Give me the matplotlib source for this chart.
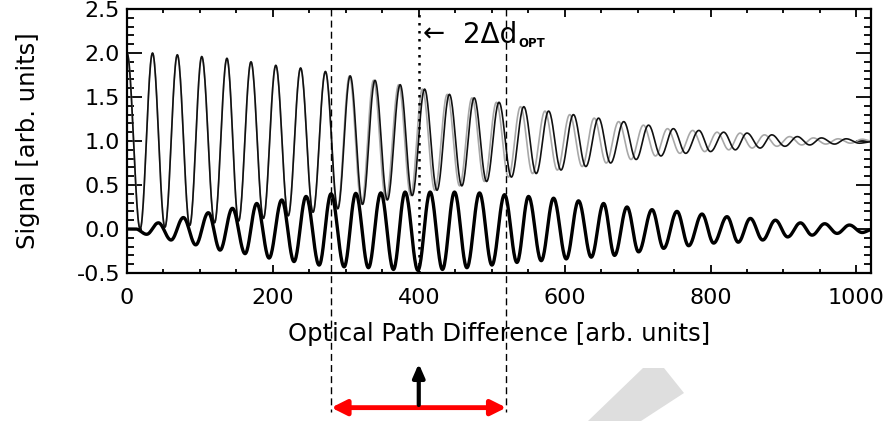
import numpy as np
import matplotlib.pyplot as plt
from matplotlib.patches import Polygon
from matplotlib.ticker import MultipleLocator

plt.rcParams['font.family'] = ['DejaVu Sans']

# --- upper signal (black, thin): extrema ---
black_peak_x = [0, 35, 69, 102.5, 137, 170, 204, 238, 272, 306, 340, 374.5, 408, 442, 476,
                510, 544, 578, 612, 646.5, 681, 715, 749, 784, 818, 850, 884, 919, 952, 986]
black_peak_y = [2.0, 2.0, 1.98, 1.96, 1.94, 1.90, 1.86, 1.83, 1.79, 1.74, 1.69, 1.64, 1.59, 1.53, 1.49,
                1.44, 1.39, 1.34, 1.30, 1.26, 1.22, 1.18, 1.14, 1.12, 1.10, 1.09, 1.07, 1.05, 1.035, 1.025]
black_trough_x = [18, 52, 86, 120, 153, 187, 221, 255, 289, 323, 357, 391, 425, 459, 493,
                  527, 561, 595, 629, 663, 698, 732, 766, 800, 834, 868, 902, 936, 970, 1004, 1020]
black_trough_y = [0.0, 0.02, 0.04, 0.07, 0.09, 0.12, 0.15, 0.19, 0.23, 0.28, 0.33, 0.38, 0.44, 0.49, 0.54,
                  0.59, 0.63, 0.67, 0.71, 0.75, 0.79, 0.83, 0.86, 0.88, 0.90, 0.92, 0.94, 0.955, 0.965, 0.975, 0.99]

# --- upper signal (grey, thin): slowly runs ahead of the black one ---
grey_peak_x = [0, 35, 69, 102.5, 137, 170, 204, 238, 272, 305, 338, 372.5, 405, 439, 473,
               506.5, 539.5, 573, 607, 640.5, 674, 708, 741, 775.5, 809, 840.5, 874, 908.5, 941, 975, 1008]
grey_peak_y = [2.0, 2.0, 1.98, 1.96, 1.94, 1.90, 1.86, 1.83, 1.79, 1.74, 1.69, 1.64, 1.59, 1.53, 1.49,
               1.44, 1.39, 1.34, 1.30, 1.26, 1.22, 1.18, 1.14, 1.12, 1.10, 1.09, 1.07, 1.05, 1.035, 1.025, 1.02]
grey_trough_x = [18, 52, 86, 120, 153, 187, 221, 255, 288.5, 321.5, 355, 389, 422, 456, 490,
                 523, 556, 590, 624, 657, 691, 724.5, 758, 792, 825, 857, 891, 925, 958, 992, 1020]
grey_trough_y = [0.0, 0.02, 0.04, 0.07, 0.09, 0.12, 0.15, 0.19, 0.23, 0.28, 0.33, 0.38, 0.44, 0.49, 0.54,
                 0.59, 0.63, 0.67, 0.71, 0.75, 0.79, 0.83, 0.86, 0.88, 0.90, 0.92, 0.94, 0.955, 0.965, 0.975, 1.0]

# --- lower signal (thick): extrema in order ---
lower_x = [0, 12, 27, 43, 60.4, 77.3, 94.2, 111.5, 127.6, 144.5, 161.9, 177.9, 194.8, 212.2, 229,
           245.5, 263.4, 279.8, 297.7, 313.7, 331, 348, 365.3, 381.3, 398.8, 415.6, 432.5, 449, 466,
           483.3, 500.3, 517.6, 534.6, 550.5, 567.9, 584.8, 602.2, 619, 636.5, 653.4, 668.4, 685.5,
           701.4, 719.8, 735.7, 754, 770, 788.3, 804.3, 822.6, 838, 854.6, 871.5, 888.9, 905.8,
           923.2, 939.2, 956.5, 973.5, 990.4, 1008, 1020]
lower_y = [0.0, 0.0, -0.06, 0.07, -0.125, 0.13, -0.18, 0.185, -0.24, 0.235, -0.28, 0.29, -0.33, 0.33, -0.37,
           0.37, -0.41, 0.40, -0.43, 0.405, -0.44, 0.41, -0.46, 0.42, -0.47, 0.42, -0.46, 0.42, -0.44,
           0.41, -0.41, 0.39, -0.38, 0.37, -0.36, 0.35, -0.34, 0.32, -0.32, 0.29, -0.30, 0.25,
           -0.26, 0.22, -0.22, 0.20, -0.19, 0.17, -0.16, 0.14, -0.15, 0.12, -0.125, 0.10, -0.09,
           0.07, -0.07, 0.06, -0.05, 0.045, -0.04, -0.01]

x_ticks = [0, 200, 400, 600, 800, 1000]
y_ticks = [-0.5, 0.0, 0.5, 1.0, 1.5, 2.0, 2.5]
opt_centre = 400
opt_half = 120


def wave(xs, ys, n=24):
    # join successive extrema with half cosine arcs
    px, py = [], []
    for i in range(len(xs) - 1):
        t = np.linspace(0, 1, n, endpoint=False)
        s = (1 - np.cos(np.pi * t)) / 2
        px.extend(xs[i] + (xs[i + 1] - xs[i]) * t)
        py.extend(ys[i] + (ys[i + 1] - ys[i]) * s)
    px.append(xs[-1])
    py.append(ys[-1])
    return np.array(px), np.array(py)


def merge(px, py, tx, ty):
    pts = sorted(zip(px + tx, py + ty))
    return [p[0] for p in pts], [p[1] for p in pts]


fig = plt.figure(figsize=(8.89, 4.21), dpi=100)
ax = fig.add_axes([127 / 889, 148 / 421, 744 / 889, 264 / 421])

gx, gy = wave(*merge(grey_peak_x, grey_peak_y, grey_trough_x, grey_trough_y))
bx, by = wave(*merge(black_peak_x, black_peak_y, black_trough_x, black_trough_y))
lx, ly = wave(lower_x, lower_y)
ax.plot(gx, gy, color='#a8a8a8', lw=1.2)
ax.plot(bx, by, color='#111111', lw=1.2)
ax.plot(lx, ly, color='#000000', lw=2.4)

ax.set_xlim(0, 1020)
ax.set_ylim(-0.5, 2.5)
ax.set_xticks(x_ticks)
ax.set_yticks(y_ticks)
ax.set_yticklabels(['%.1f' % v for v in y_ticks])
ax.xaxis.set_minor_locator(MultipleLocator(50))
ax.yaxis.set_minor_locator(MultipleLocator(0.1))
ax.tick_params(which='both', direction='in', top=True, right=True, width=1.3, labelsize=16)
ax.tick_params(axis='x', which='major', length=6, pad=11)
ax.tick_params(axis='x', which='minor', length=3)
ax.tick_params(axis='y', which='major', length=11, pad=5)
ax.tick_params(axis='y', which='minor', length=5)
for sp in ax.spines.values():
    sp.set_linewidth(1.6)

ax.set_xlabel('Optical Path Difference [arb. units]', fontsize=17.5, labelpad=10)
ax.set_ylabel('Signal [arb. units]', fontsize=17.5, labelpad=26)

# 2 dOPT marker and window
ax.plot([opt_centre, opt_centre], [-0.5, 2.5], color='black', lw=1.8, ls=(0, (1, 2.2)))
for xv in (opt_centre - opt_half, opt_centre + opt_half):
    ax.plot([xv, xv], [2.5, -2.08], color='black', lw=1.0, ls=(0, (5, 3)), clip_on=False)
ax.text(opt_centre + 6, 2.21, '\u2190', fontsize=19, va='center', ha='left')
ax.text(opt_centre + 60, 2.2, '2\u0394d', fontsize=20, va='center', ha='left')
ax.text(opt_centre + 137, 2.11, 'OPT', fontsize=8.5, fontweight='bold', va='center', ha='left')

ax.annotate('', xy=(opt_centre - opt_half, -2.03), xytext=(opt_centre + opt_half, -2.03),
            arrowprops=dict(arrowstyle='<|-|>,head_length=0.9,head_width=0.45', color='#ff0000', lw=3.5,
                            shrinkA=0, shrinkB=0), annotation_clip=False)
ax.annotate('', xy=(opt_centre, -1.53), xytext=(opt_centre, -2.0),
            arrowprops=dict(arrowstyle='-|>,head_length=0.8,head_width=0.35', color='black', lw=3,
                            shrinkA=0, shrinkB=0), annotation_clip=False)

# faint grey stroke in the corner of the original figure
shape = [(588, 421), (643, 368), (664, 368), (684, 393), (641, 421)]
fig.patches.append(Polygon([(x / 889, 1 - y / 421) for x, y in shape], closed=True,
                           transform=fig.transFigure, facecolor='#dedede', edgecolor='none', zorder=0))

fig.savefig('out.png', dpi=100)
